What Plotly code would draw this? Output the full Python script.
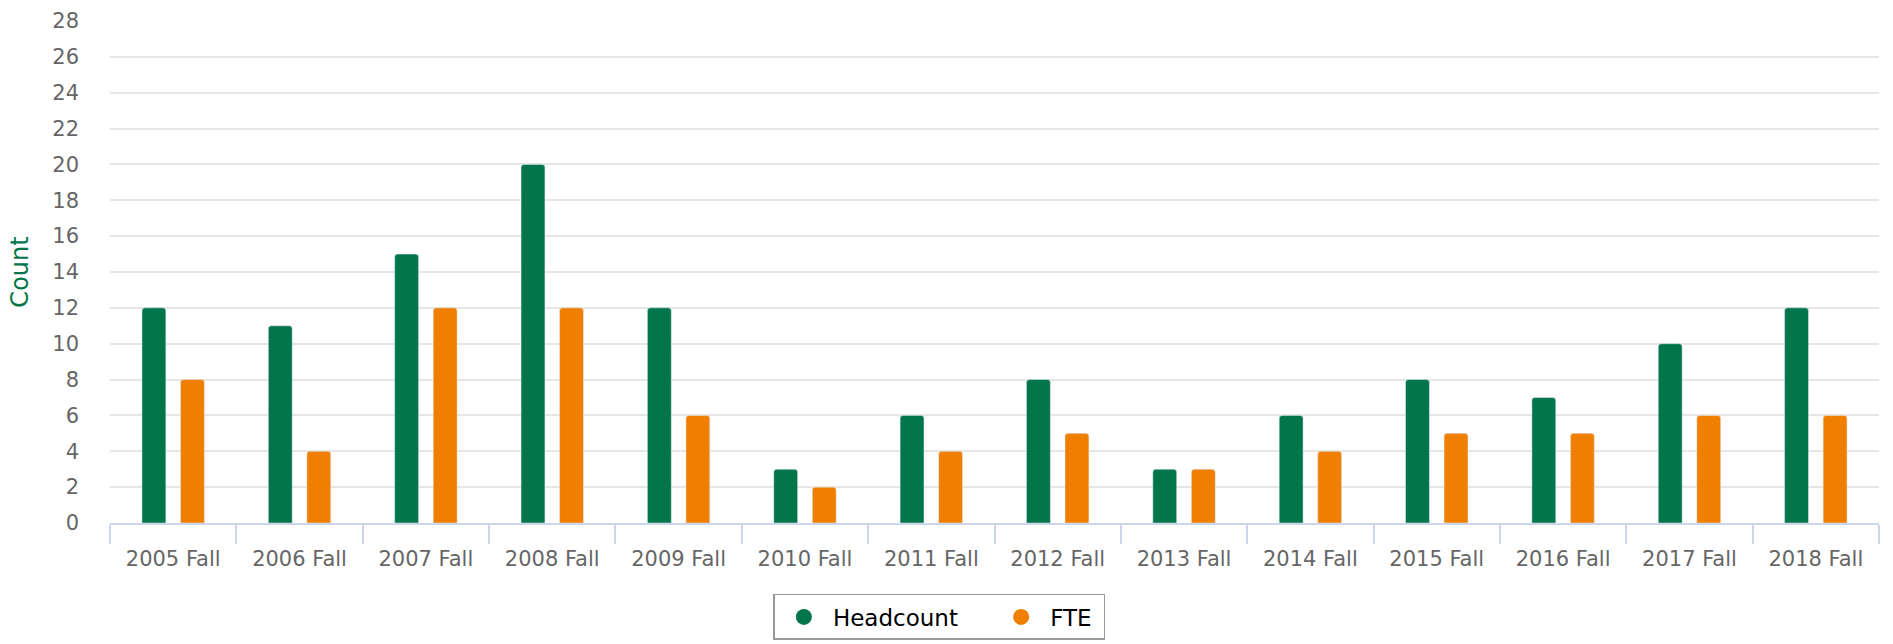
import plotly.graph_objects as go

categories = ["2005 Fall", "2006 Fall", "2007 Fall", "2008 Fall", "2009 Fall", "2010 Fall",
              "2011 Fall", "2012 Fall", "2013 Fall", "2014 Fall", "2015 Fall", "2016 Fall",
              "2017 Fall", "2018 Fall"]
headcount = [12, 11, 15, 20, 12, 3, 6, 8, 3, 6, 8, 7, 10, 12]
fte = [8, 4, 12, 12, 6, 2, 4, 5, 3, 4, 5, 5, 6, 6]
y_ticks = list(range(0, 29, 2))

GREEN = "#02754B"
ORANGE = "#F07F00"
FONT = "DejaVu Sans"
PAD = "\u00a0" * 4

fig = go.Figure()
fig.add_trace(go.Bar(x=categories, y=headcount, name="Headcount", marker_color=GREEN,
                     marker_cornerradius=3, showlegend=False))
fig.add_trace(go.Bar(x=categories, y=fte, name="FTE", marker_color=ORANGE,
                     marker_cornerradius=3, showlegend=False))
# legend entries with circle symbols
fig.add_trace(go.Scatter(x=[None], y=[None], mode="markers", name="Headcount" + PAD,
                         marker=dict(color=GREEN, size=24, symbol="circle")))
fig.add_trace(go.Scatter(x=[None], y=[None], mode="markers", name="FTE" + "\u00a0",
                         marker=dict(color=ORANGE, size=24, symbol="circle")))

fig.update_layout(
    width=1893, height=644,
    margin=dict(l=110, r=14, t=21, b=121, autoexpand=False),
    paper_bgcolor="white", plot_bgcolor="white",
    barmode="group", bargap=0.39, bargroupgap=0.38,
    font=dict(family=FONT, size=21, color="#666666"),
    legend=dict(orientation="h", x=0.375, xanchor="left", y=-0.1414, yanchor="top",
                bgcolor="white", bordercolor="#999999", borderwidth=1.5,
                font=dict(family=FONT, size=23, color="#000000"),
                itemsizing="trace", itemwidth=48),
    xaxis=dict(showgrid=False, showline=True, linecolor="#ccd6eb", linewidth=1.5,
               ticks="outside", tickson="boundaries", ticklen=19, tickcolor="#ccd6eb",
               tickwidth=1.5, tickfont=dict(size=21, color="#666666"), fixedrange=True,
               automargin=False, ticklabelstandoff=16),
    yaxis=dict(range=[0, 28], tickvals=y_ticks, showgrid=True, gridcolor="#e6e6e6",
               gridwidth=1.5, zeroline=False, showline=False, ticklabelstandoff=30,
               tickfont=dict(size=21, color="#666666"), automargin=False, fixedrange=True,
               title=dict(text="Count", font=dict(size=24, color=GREEN), standoff=16)),
)

fig.write_html("out.html", config={"displayModeBar": False},
               post_script="document.body.style.margin='0px';")
